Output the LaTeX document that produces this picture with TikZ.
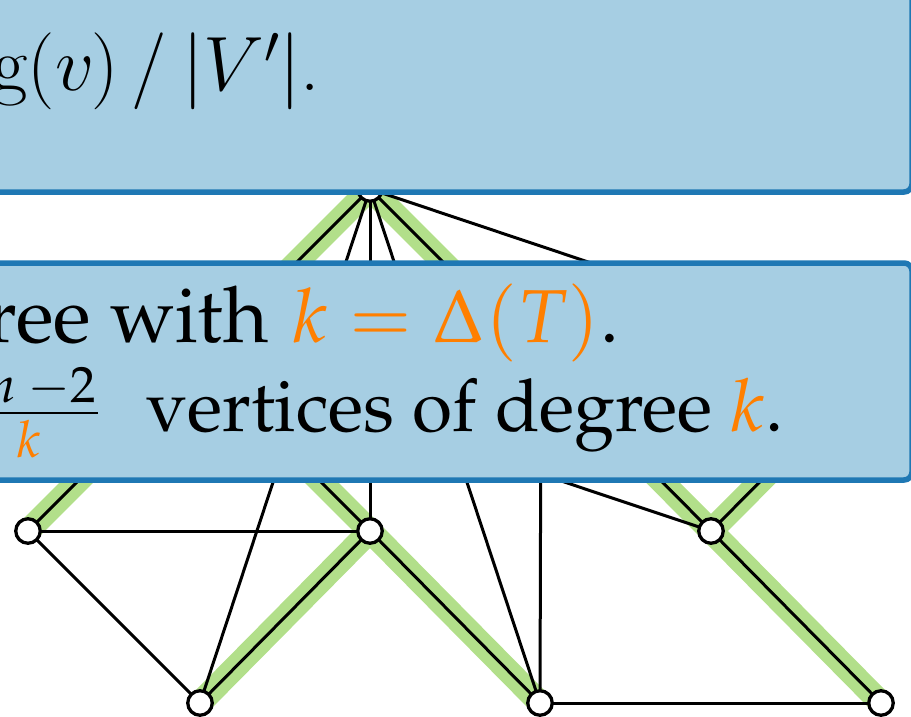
\RequirePackage{fix-cm}
\documentclass[tikz,border=0pt]{standalone}
\usepackage[T1]{fontenc}
\usepackage{mathpazo}
\definecolor{boxfill}{HTML}{A6CEE3}
\definecolor{boxline}{HTML}{1F78B4}
\definecolor{treegreen}{HTML}{B2DF8A}
\definecolor{kor}{HTML}{FF7F00}
\newcommand{\cmrm}{\fontencoding{OT1}\fontfamily{cmr}\fontseries{m}\fontshape{n}\selectfont}
\newcommand{\cmmi}{\fontencoding{OML}\fontfamily{cmm}\fontseries{m}\fontshape{it}\selectfont}
\newcommand{\cmsy}{\fontencoding{OMS}\fontfamily{cmsy}\fontseries{m}\fontshape{n}\selectfont}
\tikzset{
  vtx/.style={circle, draw=black, fill=white, line width=3.3pt, minimum size=24.5pt, inner sep=0pt},
  edge/.style={draw=black, line width=3pt},
  hl/.style={draw=treegreen, line width=24pt, line cap=round},
  infobox/.style={fill=boxfill, draw=boxline, line width=5.5pt, rounded corners=8pt},
  toptext/.style={anchor=base east, inner sep=0pt, font=\fontsize{77}{90}\selectfont},
  bigtext/.style={anchor=base east, inner sep=0pt, font=\fontsize{73}{86}\selectfont},
  fractext/.style={inner sep=0pt, font=\fontsize{51}{60}\selectfont}
}
\newcommand{\uppertext}{{\cmrm deg(}{\cmmi v}{\cmrm )\hspace{13pt}/\hspace{15pt}}{\cmsy\char"6A}{\cmmi V\/}\raisebox{28pt}{\fontsize{54}{60}\cmsy\char"30}{\cmsy\char"6A}{\cmrm .}}
\newcommand{\linetwo}{vertices of degree \textcolor{kor}{$k$}.}
\begin{document}
\begin{tikzpicture}[x=1pt,y=-1pt]
\useasboundingbox (0,0) rectangle (911,717);
\clip (0,0) rectangle (911,717);
% vertex positions
\coordinate (pA) at (540,19);
\coordinate (pB) at (370,189);
\coordinate (pX) at (199,360);
\coordinate (pY) at (541,360);
\coordinate (pZ) at (881,360);
\coordinate (pC) at (28,531);
\coordinate (pD) at (370,531);
\coordinate (pE) at (711,531);
\coordinate (pF) at (200,703);
\coordinate (pG) at (540,703);
\coordinate (pH) at (881,703);
% tree highlight
\foreach \u/\v in {pA/pB, pB/pX, pX/pC, pX/pD, pB/pY, pY/pE, pZ/pE, pD/pF, pD/pG, pE/pH}
  \draw[hl] (\u) -- (\v);
% edges
\foreach \u/\v in {pA/pB, pB/pX, pX/pC, pX/pD, pB/pY, pY/pE, pZ/pE, pD/pF, pD/pG, pE/pH,
                   pB/pF, pB/pD, pB/pG, pB/pZ, pX/pE, pY/pG, pC/pD, pC/pF, pG/pH}
  \draw[edge] (\u) -- (\v);
% vertices
\foreach \p/\nm in {pA/A, pB/B, pX/X, pY/Y, pZ/Z, pC/C, pD/D, pE/E, pF/F, pG/G, pH/H}
  \node[vtx] (\nm) at (\p) {};
% boxes
\draw[infobox] (-40,-60) rectangle (912,192);
\draw[infobox] (-40,263) rectangle (912,480);
% texts
\node[toptext] (t1) at (320,91) {\uppertext};
\node[bigtext, font=\fontsize{78}{90}\selectfont] (t2a) at (269,342) {tree with};
\node[bigtext, font=\fontsize{75}{88}\selectfont] (t2b) at (619,342) {\textcolor{kor}{$k=\Delta(T)$}.};
\node[fractext, anchor=base east] (num) at (96,402) {$n\mskip4mu{-}2$};
\draw[line width=2.7pt] (-20,413) -- (97.5,413);
\node[fractext, anchor=base] (den) at (29,457) {\textcolor{kor}{$k$}};
\node[bigtext] (t3) at (784,431) {\linetwo};
\end{tikzpicture}
\end{document}
